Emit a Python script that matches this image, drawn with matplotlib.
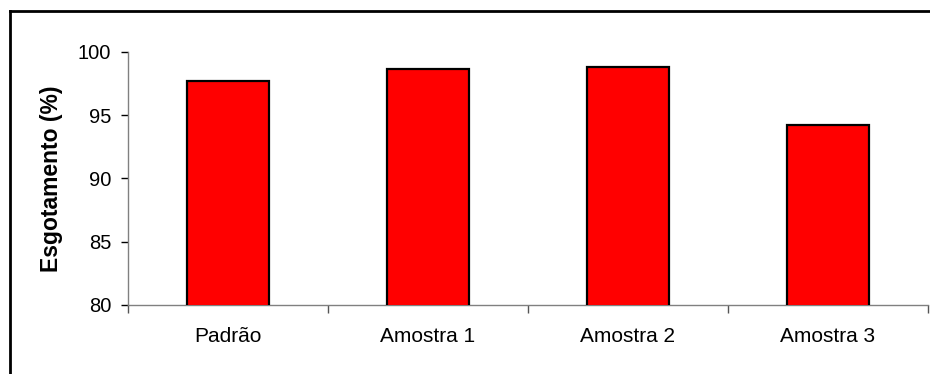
import matplotlib.pyplot as plt
from matplotlib.lines import Line2D
import numpy as np

plt.rcParams['font.family'] = ['Liberation Sans', 'DejaVu Sans']

amostras = ['Padrão', 'Amostra 1', 'Amostra 2', 'Amostra 3']
esgotamento = [97.7, 98.6, 98.8, 94.2]
yticks = [80, 85, 90, 95, 100]

fig = plt.figure(figsize=(9.3, 3.74), dpi=100)
ax = fig.add_axes([0.1376, 0.1845, 0.8600, 0.6773])

x = np.arange(len(amostras))
ax.bar(x, esgotamento, width=0.41, bottom=0, color='#ff0000',
       edgecolor='black', linewidth=1.6, zorder=3)

ax.set_ylim(80, 100)
ax.set_xlim(-0.5, len(amostras) - 0.5)
ax.set_yticks(yticks)
ax.set_xticks(x)
ax.set_xticklabels(amostras, fontsize=15)
ax.tick_params(axis='y', labelsize=14.5, length=5, width=1, color='black', pad=7)
ax.tick_params(axis='x', length=0, pad=16)
# divisões entre categorias
ax.set_xticks(np.arange(len(amostras) + 1) - 0.5, minor=True)
ax.tick_params(axis='x', which='minor', length=6, width=1, color='#555555')

for s in ['top', 'right']:
    ax.spines[s].set_visible(False)
for s in ['left', 'bottom']:
    ax.spines[s].set_color('#808080')
    ax.spines[s].set_linewidth(1)

ax.set_ylabel('Esgotamento (%)', fontsize=16.5, fontweight='bold', va='center')
ax.yaxis.set_label_coords(-0.096, 0.5)

# moldura da área do gráfico
fig.add_artist(Line2D([10 / 930, 10 / 930], [0, 1 - 11 / 374],
                      transform=fig.transFigure, color='black', lw=2))
fig.add_artist(Line2D([10 / 930, 1], [1 - 11 / 374, 1 - 11 / 374],
                      transform=fig.transFigure, color='black', lw=2))

fig.savefig('out.png', dpi=100)
